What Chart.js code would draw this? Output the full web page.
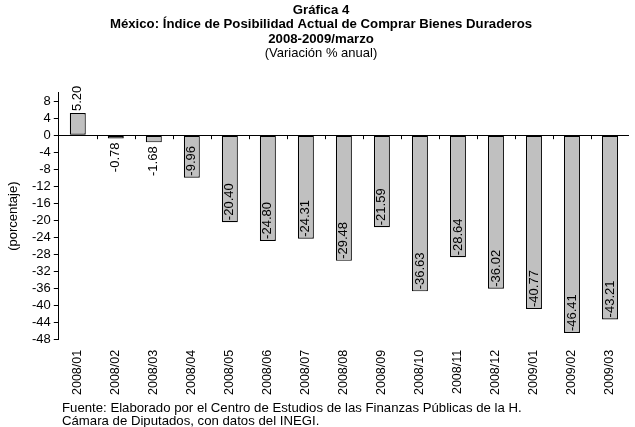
<!DOCTYPE html>
<html>
<head>
  <meta charset="UTF-8">
  <title>Gráfica 4</title>
  <script src="https://cdn.jsdelivr.net/npm/chart.js"></script>
  <style>
    body { margin: 0; background: #fff; overflow: hidden; }
    #wrap { position: relative; width: 635px; height: 427px; }
    #note { position: absolute; left: 62px; top: 401px; font: 13.2px "Liberation Sans", Arial, sans-serif; line-height: 13px; color: #000; white-space: nowrap; }
  </style>
</head>
<body>
  <div id="wrap">
    <canvas id="chart" width="635" height="427"></canvas>
    <div id="note">Fuente: Elaborado por el Centro de Estudios de las Finanzas Públicas de la H.<br>Cámara de Diputados, con datos del INEGI.</div>
  </div>

  <script>
    const months = ['2008/01','2008/02','2008/03','2008/04','2008/05','2008/06','2008/07','2008/08',
                    '2008/09','2008/10','2008/11','2008/12','2009/01','2009/02','2009/03'];
    const variation = [5.20, -0.78, -1.68, -9.96, -20.40, -24.80, -24.31, -29.48,
                       -21.59, -36.63, -28.64, -36.02, -40.77, -46.41, -43.21];
    const yTicks = [8, 4, 0, -4, -8, -12, -16, -20, -24, -28, -32, -36, -40, -44, -48];

    const FONT = '"Liberation Sans", Arial, sans-serif';

    // labels rotated along each bar, inside the end when they fit
    const barLabels = {
      id: 'barLabels',
      afterDatasetsDraw(chart) {
        const ctx = chart.ctx;
        const meta = chart.getDatasetMeta(0);
        ctx.save();
        ctx.font = '13px ' + FONT;
        ctx.fillStyle = '#000';
        ctx.textBaseline = 'middle';
        meta.data.forEach((el, i) => {
          const v = variation[i];
          const txt = v.toFixed(2);
          const w = ctx.measureText(txt).width;
          const len = Math.abs(el.y - el.base);
          ctx.save();
          if (v >= 0 || len > w + 6) {
            ctx.translate(el.x, el.y - 2);
            ctx.rotate(-Math.PI / 2);
            ctx.textAlign = 'left';
          } else {
            ctx.translate(el.x, el.y + 4);
            ctx.rotate(-Math.PI / 2);
            ctx.textAlign = 'right';
          }
          ctx.fillText(txt, 0, 0);
          ctx.restore();
        });
        ctx.restore();
      }
    };

    // category tick marks on the zero line
    const zeroTicks = {
      id: 'zeroTicks',
      afterDraw(chart) {
        const ctx = chart.ctx;
        const x = chart.scales.x, y = chart.scales.y;
        const y0 = y.getPixelForValue(0);
        ctx.save();
        ctx.strokeStyle = '#000';
        ctx.lineWidth = 1;
        ctx.beginPath();
        for (let i = 1; i < months.length; i++) {
          const px = Math.round((x.getPixelForValue(i - 1) + x.getPixelForValue(i)) / 2) + 0.5;
          ctx.moveTo(px, y0);
          ctx.lineTo(px, y0 + 4);
        }
        ctx.stroke();
        ctx.restore();
      }
    };

    new Chart(document.getElementById('chart'), {
      type: 'bar',
      data: {
        labels: months,
        datasets: [{
          data: variation,
          backgroundColor: '#c0c0c0',
          borderColor: '#000',
          borderWidth: 1.2,
          borderSkipped: false,
          categoryPercentage: 1,
          barPercentage: 0.42
        }]
      },
      options: {
        responsive: false,
        animation: false,
        layout: { padding: { left: 7, right: 0, top: 0, bottom: 22 } },
        plugins: {
          legend: { display: false },
          tooltip: { enabled: false },
          title: {
            display: true,
            text: ['Gráfica 4', 'México: Índice de Posibilidad Actual de Comprar Bienes Duraderos', '2008-2009/marzo'],
            font: { family: FONT, size: 13.2, weight: 'bold', lineHeight: 1.1 },
            color: '#000',
            padding: { top: 3, bottom: 0 }
          },
          subtitle: {
            display: true,
            text: '(Variación % anual)',
            font: { family: FONT, size: 13, lineHeight: 1.0 },
            color: '#000',
            padding: { top: 0, bottom: 33 }
          }
        },
        scales: {
          x: {
            grid: { display: false, drawTicks: false },
            border: { display: false },
            ticks: {
              color: '#000',
              font: { family: FONT, size: 12.5 },
              minRotation: 90,
              maxRotation: 90,
              autoSkip: false,
              padding: 10
            }
          },
          y: {
            min: -48,
            max: 10,
            afterBuildTicks(scale) {
              scale.ticks = yTicks.map(v => ({ value: v }));
            },
            grid: {
              color: ctx => (ctx.tick && ctx.tick.value === 0) ? '#000' : 'rgba(0,0,0,0)',
              tickColor: '#000',
              tickLength: 5,
              drawTicks: true
            },
            border: { color: '#000' },
            ticks: {
              color: '#000',
              font: { family: FONT, size: 13 },
              padding: 3,
              autoSkip: false
            },
            title: {
              display: true,
              text: '(porcentaje)',
              color: '#000',
              font: { family: FONT, size: 13, lineHeight: 1.0 },
              padding: { top: 0, bottom: 9 }
            }
          }
        }
      },
      plugins: [barLabels, zeroTicks]
    });
  </script>
</body>
</html>
